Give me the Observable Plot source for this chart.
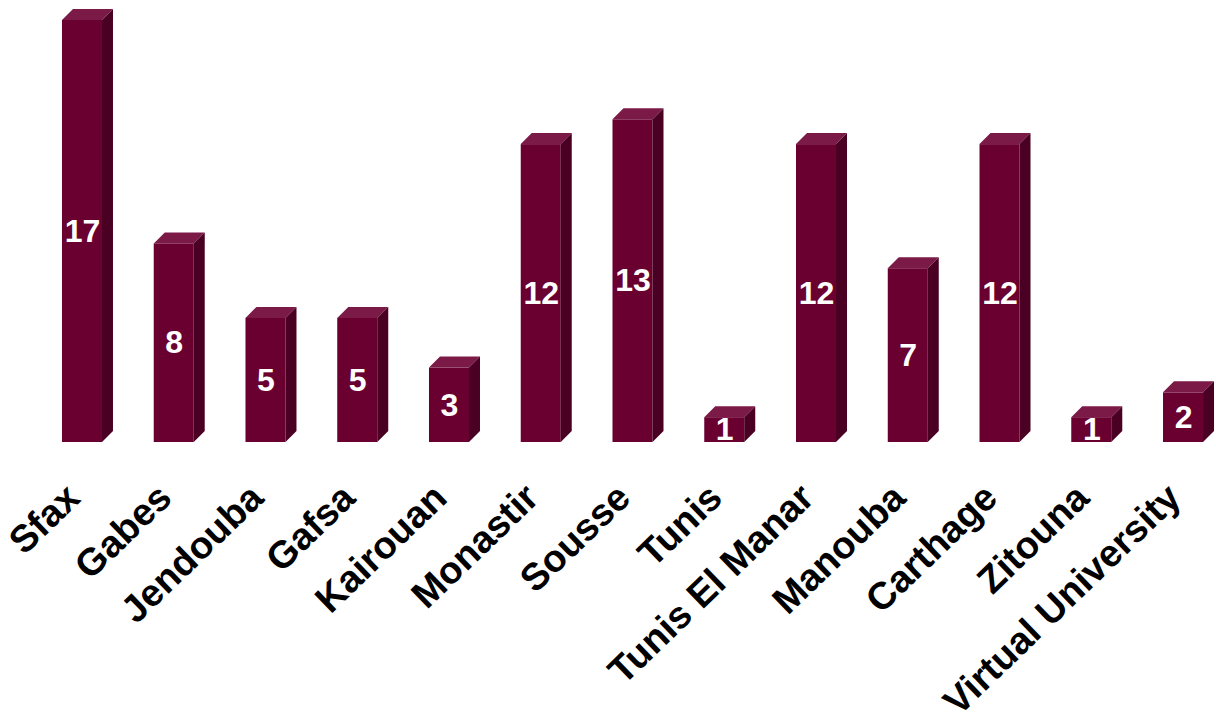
<!DOCTYPE html>
<html><head><meta charset="utf-8">
<script src="https://cdn.jsdelivr.net/npm/d3@7"></script>
<script src="https://cdn.jsdelivr.net/npm/@observablehq/plot@0.6"></script>
<style>body{margin:0;background:#fff;font-family:"Liberation Sans",Arial,sans-serif}</style>
</head><body><div id="chart"></div>
<script>
const universities = ["Sfax","Gabes","Jendouba","Gafsa","Kairouan","Monastir","Sousse","Tunis","Tunis El Manar","Manouba","Carthage","Zitouna","Virtual University"];
const counts = [17,8,5,5,3,12,13,1,12,7,12,1,2];
const data = universities.map((name, i) => ({name, value: counts[i]}));

const DX = 11, DY = 11;
const frontColor = "#6a0030", topColor = "#7c1a47", sideColor = "#4a0022";

function addFaces(index, scales, values, dimensions, context, next) {
  const g = next(index, scales, values, dimensions, context);
  const x = scales.x, y = scales.y;
  const bw = x.bandwidth != null ? (typeof x.bandwidth === "function" ? x.bandwidth() : x.bandwidth) : 40;
  const sel = d3.select(g);
  for (const i of index) {
    const d = data[i];
    const x0 = x(d.name), x1 = x0 + bw;
    const yt = y(d.value), yb = y(0);
    sel.append("polygon")
      .attr("points", [[x0, yt], [x0 + DX, yt - DY], [x1 + DX, yt - DY], [x1, yt]].join(" "))
      .attr("fill", topColor);
    sel.append("polygon")
      .attr("points", [[x1, yt], [x1 + DX, yt - DY], [x1 + DX, yb - DY], [x1, yb]].join(" "))
      .attr("fill", sideColor);
  }
  return g;
}

const chart = Plot.plot({
  width: 1216,
  height: 720,
  margin: 0,
  style: {fontFamily: "'Liberation Sans', Arial, sans-serif", background: "white"},
  x: {domain: universities, range: [52.8, 1212.2], paddingInner: 0.564, paddingOuter: 0.1, round: false, axis: null},
  y: {domain: [0, 17], range: [442, 20], axis: null},
  marks: [
    Plot.barY(data, {x: "name", y: "value", fill: frontColor, render: addFaces}),
    Plot.text(data, {x: "name", y: d => d.value / 2, text: d => String(d.value), fill: "white", fontSize: 32, fontWeight: "bold"}),
    Plot.text(data, {x: "name", y: 0, text: "name", rotate: -44, textAnchor: "end", dx: -9, dy: 49, fontSize: 38, fontWeight: "bold", fill: "black"})
  ]
});
document.getElementById("chart").append(chart);
</script>
</body></html>
